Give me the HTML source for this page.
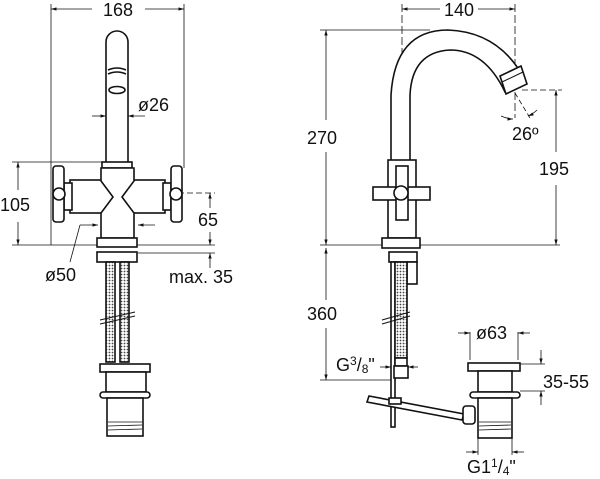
<!DOCTYPE html>
<html><head><meta charset="utf-8"><style>
html,body{margin:0;padding:0;background:#fff;}
svg{display:block;}
text{font-family:"Liberation Sans",sans-serif;fill:#111;}
</style></head><body>
<svg width="600" height="479" viewBox="0 0 600 479" xmlns="http://www.w3.org/2000/svg">
<defs>
<marker id="a" viewBox="0 0 10 10" refX="10" refY="5" markerWidth="7" markerHeight="7" orient="auto-start-reverse"><path d="M0,2 L10,5 L0,8 z" fill="#111"/></marker>
<pattern id="h" width="3" height="3" patternUnits="userSpaceOnUse"><rect width="3" height="3" fill="#fff"/><circle cx="1.5" cy="1.5" r="0.9" fill="#444"/></pattern>
</defs>
<g stroke="#111" fill="none" stroke-width="0.8">
<line x1="51" y1="4" x2="51" y2="245"/><line x1="184" y1="4" x2="184" y2="168"/>
<line x1="51" y1="9" x2="92" y2="9" marker-start="url(#a)"/><line x1="145" y1="9" x2="184" y2="9" marker-end="url(#a)"/>
<line x1="12" y1="162" x2="102" y2="162"/><line x1="12" y1="245" x2="215" y2="245"/>
<line x1="18" y1="162" x2="18" y2="190" marker-start="url(#a)"/><line x1="18" y1="222" x2="18" y2="245" marker-end="url(#a)"/>
<line x1="160" y1="193" x2="215" y2="193" stroke-dasharray="6,3"/>
<line x1="210" y1="193" x2="210" y2="208" marker-start="url(#a)"/><line x1="210" y1="232" x2="210" y2="245" marker-end="url(#a)"/>
<line x1="92" y1="116" x2="106" y2="116" marker-end="url(#a)"/><line x1="145" y1="116" x2="128" y2="116" marker-end="url(#a)"/>
<line x1="80" y1="225" x2="98" y2="225" marker-end="url(#a)"/><line x1="155" y1="225" x2="138" y2="225" marker-end="url(#a)"/>
<line x1="80" y1="225" x2="70" y2="262"/>
<line x1="138" y1="253" x2="215" y2="253"/>
<line x1="210" y1="268" x2="210" y2="253" marker-end="url(#a)"/>
<line x1="402" y1="4" x2="402" y2="140" stroke-dasharray="8,3"/><line x1="515" y1="4" x2="515" y2="118" stroke-dasharray="8,3"/>
<line x1="402" y1="9" x2="440" y2="9" marker-start="url(#a)"/><line x1="478" y1="9" x2="515" y2="9" marker-end="url(#a)"/>
<line x1="320" y1="30" x2="430" y2="30"/>
<line x1="326" y1="30" x2="326" y2="120" marker-start="url(#a)"/><line x1="326" y1="152" x2="326" y2="245" marker-end="url(#a)"/>
<line x1="320" y1="245" x2="560" y2="245"/>
<line x1="522" y1="90" x2="562" y2="90" stroke-dasharray="6,3"/>
<line x1="556" y1="90" x2="556" y2="152" marker-start="url(#a)"/><line x1="556" y1="185" x2="556" y2="245" marker-end="url(#a)"/>
<line x1="515" y1="93" x2="530" y2="118" stroke-dasharray="5,3"/>
<path d="M501,116 Q508,119 513,119" marker-end="url(#a)"/><path d="M537,110 Q533,114 528,116" marker-end="url(#a)"/>
<line x1="326" y1="248" x2="326" y2="300" marker-start="url(#a)"/><line x1="326" y1="328" x2="326" y2="380" marker-end="url(#a)"/>
<line x1="320" y1="380" x2="396" y2="380"/>
<line x1="380" y1="367" x2="391" y2="367" marker-end="url(#a)"/><line x1="418" y1="367" x2="408" y2="367" marker-end="url(#a)"/>
<line x1="470" y1="332" x2="470" y2="360"/><line x1="518" y1="332" x2="518" y2="360"/>
<line x1="458" y1="333" x2="470" y2="333" marker-end="url(#a)"/><line x1="530" y1="333" x2="518" y2="333" marker-end="url(#a)"/>
<line x1="520" y1="364" x2="545" y2="364"/><line x1="520" y1="391" x2="545" y2="391"/>
<line x1="541" y1="350" x2="541" y2="364" marker-end="url(#a)"/><line x1="541" y1="405" x2="541" y2="391" marker-end="url(#a)"/>
<line x1="478" y1="438" x2="478" y2="455"/><line x1="512" y1="438" x2="512" y2="455"/>
<line x1="466" y1="452" x2="478" y2="452" marker-end="url(#a)"/><line x1="524" y1="452" x2="512" y2="452" marker-end="url(#a)"/>
</g>
<g stroke="#111" fill="#fff" stroke-width="1.6">
<path d="M106,163 L106,42 A11,11 0 0 1 128,42 L128,163"/>
<path d="M108,70 Q117,66 126,70 M108,74 Q117,70 126,74"/>
<ellipse cx="117" cy="90" rx="8" ry="3.5"/>
<rect x="102" y="162" width="30" height="6"/>
<rect x="70" y="180" width="95" height="33"/>
<rect x="64" y="183" width="8" height="27"/><rect x="163" y="183" width="8" height="27"/>
<path d="M101,168 L134,168 L134,181 L122,197 L134,213 L134,238 L101,238 L101,213 L113,197 L101,181 Z"/>
<rect x="53" y="166" width="11" height="56" rx="3"/><rect x="171" y="166" width="11" height="56" rx="3"/>
<circle cx="59" cy="194" r="6"/><circle cx="176" cy="194" r="6"/>
<rect x="97" y="238" width="40" height="9"/>
<rect x="97" y="252" width="40" height="10"/>
<rect x="106" y="262" width="9" height="100" fill="url(#h)"/><rect x="120" y="262" width="9" height="100" fill="url(#h)"/>
<path d="M100,320 L135,312 M100,324 L135,316" stroke-width="1"/>
<rect x="100" y="364" width="50" height="8"/>
<rect x="106" y="372" width="40" height="20"/>
<rect x="100" y="392" width="50" height="6" rx="3"/>
<rect x="107" y="398" width="36" height="38"/>
<path d="M108,422 L142,422 M108,426 L142,425 M108,430 L142,429" stroke-width="0.8"/>
<path d="M391,160 L391,95 Q395,30 448,30 Q500,32 525,80 L505,92 Q485,50 450,50 Q412,52 410,95 L410,160"/>
<path d="M500,76 L521,66 L527,84 L506,94 Z"/>
<line x1="502" y1="82" x2="523" y2="72" stroke-width="1"/>
<rect x="388" y="160" width="28" height="78"/>
<rect x="373" y="187" width="57" height="13"/>
<rect x="396" y="166" width="12" height="54"/>
<circle cx="401" cy="193" r="7"/>
<rect x="382" y="238" width="38" height="10"/>
<rect x="389" y="252" width="28" height="10"/>
<rect x="407" y="262" width="10" height="22"/>
<rect x="391" y="262" width="4" height="165"/>
<rect x="395" y="262" width="12" height="96" fill="url(#h)"/>
<path d="M382,320 L410,312 M382,324 L410,316" stroke-width="1"/>
<rect x="395" y="358" width="12" height="8"/><rect x="394" y="366" width="14" height="12"/>
<path d="M369,396 L464,414 L462,420 L367,402 Z"/>
<rect x="389" y="398" width="12" height="6"/>
<rect x="463" y="406" width="12" height="18" rx="3"/>
<rect x="468" y="363" width="52" height="8"/>
<rect x="478" y="371" width="34" height="21"/>
<rect x="470" y="392" width="50" height="6" rx="3"/>
<rect x="478" y="398" width="34" height="40"/>
<path d="M479,422 L511,422 M479,426 L511,425 M479,430 L511,429" stroke-width="0.8"/>
</g>
<g font-size="18">
<text x="118" y="16" text-anchor="middle">168</text>
<text x="138" y="111">ø26</text>
<text x="0" y="211">105</text>
<text x="198" y="226">65</text>
<text x="45" y="281">ø50</text>
<text x="169" y="283">max. 35</text>
<text x="459" y="16" text-anchor="middle">140</text>
<text x="307" y="144">270</text>
<text x="512" y="140">26º</text>
<text x="539" y="175">195</text>
<text x="307" y="320">360</text>
<text x="336" y="371">G<tspan font-size="12" dy="-6">3</tspan><tspan dy="6">/</tspan><tspan font-size="12" dy="2">8</tspan><tspan dy="-2">"</tspan></text>
<text x="476" y="339">ø63</text>
<text x="543" y="388">35-55</text>
<text x="467" y="473">G1<tspan font-size="12" dy="-6">1</tspan><tspan dy="6">/</tspan><tspan font-size="12" dy="2">4</tspan><tspan dy="-2">"</tspan></text>
</g>
</svg>
</body></html>
